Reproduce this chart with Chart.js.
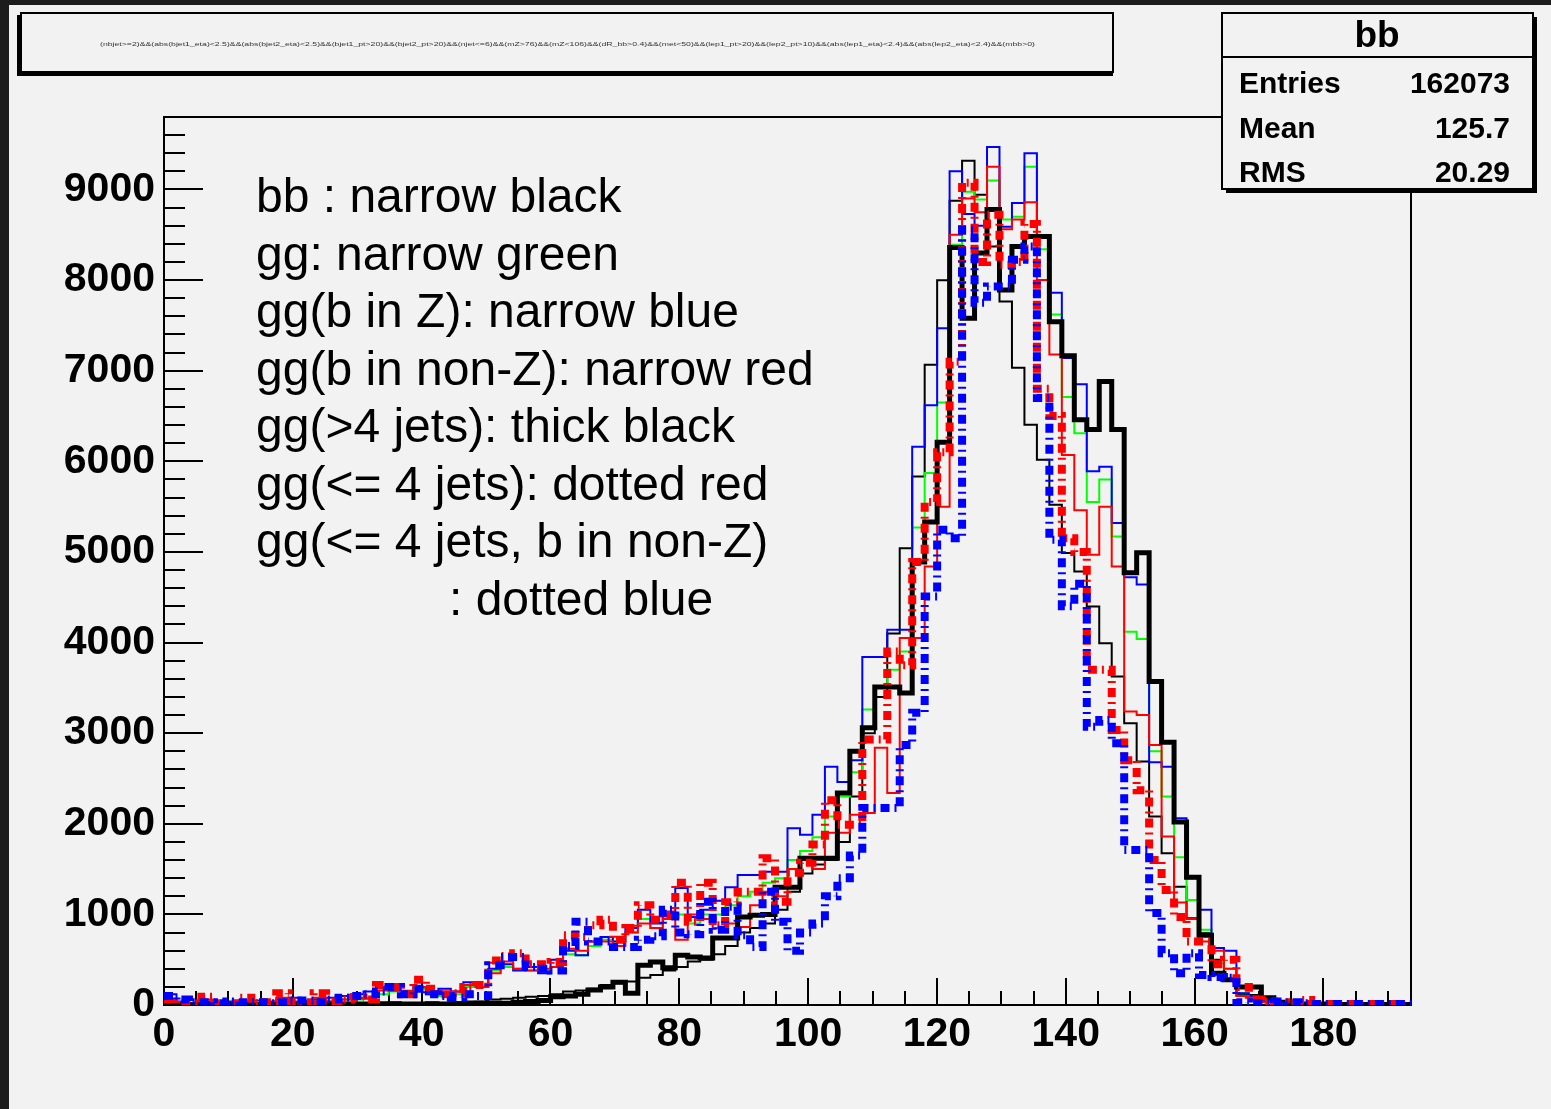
<!DOCTYPE html>
<html>
<head>
<meta charset="utf-8">
<script src="https://cdn.jsdelivr.net/npm/chart.js@4.4.1/dist/chart.umd.min.js"></script>
<style>
  html, body { margin: 0; padding: 0; background: #f2f2f2; }
  canvas { display: block; }
</style>
</head>
<body>
<canvas id="c" width="1551" height="1109"></canvas>
<script>
/* ── DATA (100 bins, 0 .. XMAX) ── */
const XMAX = 193.6;
const N_BINS = 100;
const X_TICKS = [0, 20, 40, 60, 80, 100, 120, 140, 160, 180];
const Y_TICKS = [0, 1000, 2000, 3000, 4000, 5000, 6000, 7000, 8000, 9000];
const Y_MAX = 9800;

// bb : narrow black
const bbBlack = [30,10,10,10,10,20,10,10,10,20, 10,10,20,10,20,20,10,20,30,20,
  20,30,20,30,40,40,60,70,80,90, 100,120,150,160,180,220,240,260,300,330,
  380,420,480,500,560,650,800,850,900,1050, 1250,1450,1550,1600,1800,2300,3000,3400,4100,5040,
  5833,7066,7997,8876,9318,8942,8372,7765,7032,6403, 6017,5520,4987,4784,4397,3993,3625,3110,2686,2079,
  1675,1306,957,791,500,276,110,110,60,30, 20,10,10,10,5,5,5,5,5,5];
// gg: narrow green
const ggGreen = [60,20,20,30,20,30,30,20,30,40, 30,30,60,40,60,60,80,120,150,160,
  180,120,100,120,200,200,380,420,400,380, 380,420,560,550,650,720,700,800,950,850,
  950,1000,900,1000,1000,1100,1200,1250,1350,1400, 1600,1700,1850,2080,2300,2570,3260,3500,3700,3900,
  5270,5870,6650,8390,8975,8890,9100,8670,8700,9250, 8340,7620,6710,6310,5550,5800,5170,4120,4040,2800,
  2300,1630,1160,830,460,400,130,100,40,20, 10,10,10,5,5,5,5,5,5,5];
// gg(b in Z): narrow blue
const ggBinZ = [120,40,20,40,30,40,30,50,40,60, 80,50,60,80,100,120,150,200,160,150,
  200,120,180,150,250,200,400,450,380,420, 350,500,600,550,700,750,700,850,1050,900,
  1000,1290,970,1050,1150,1300,1435,1435,1470,1470, 1950,1880,2100,2630,2460,2700,3840,3840,4140,4140,
  6160,6620,7470,9200,8730,8600,9470,8590,8850,9400, 8470,7860,7140,6850,5890,5940,5320,4720,4640,2680,
  2630,2060,1400,1050,630,600,130,100,40,20, 20,10,10,5,5,5,5,5,5,5];
// gg(b in non-Z): narrow red
const ggBnonZ = [50,20,20,60,20,30,50,20,30,80, 40,30,80,40,60,80,70,160,180,150,
  200,150,120,150,220,200,350,480,400,380, 400,420,620,600,700,700,650,800,900,850,
  950,720,1000,950,850,900,860,1100,1250,1200, 1500,1600,1500,1900,1900,2100,2120,2840,2340,4050,
  4050,4840,5500,8500,8900,8750,9250,8560,8670,8860, 8000,7180,6070,5460,4970,5500,4840,3240,3200,2870,
  1860,1130,950,700,600,400,100,60,30,20, 10,10,10,5,5,5,5,5,5,5];
// gg(>4 jets): thick black
const ggMore4 = [10,5,5,5,5,10,5,5,10,5, 10,10,5,10,10,10,10,15,10,10,
  10,10,10,15,15,20,20,20,30,40, 50,90,100,120,165,200,250,130,440,475,
  410,550,530,520,740,740,970,990,1000,1300, 1300,1620,1620,1620,2340,2800,3060,3510,3510,3444,
  4890,5330,6210,8360,7580,8300,8780,7890,8370,8480, 8480,7540,7165,6460,6350,6880,6350,4770,4990,3570,
  2900,2020,1410,770,350,280,200,200,80,30, 20,10,10,5,5,5,5,5,5,5];
// gg(<= 4 jets): dotted red
const ggLe4 = [60,20,20,90,20,20,80,20,30,130, 40,30,130,40,60,80,60,220,200,120,
  280,180,120,130,200,220,490,540,570,450, 450,475,770,750,880,940,720,850,1100,940,
  1000,1350,920,1350,880,1135,1250,1250,1620,1140, 1460,1570,1770,2260,1990,1990,2930,2930,3900,3750,
  4890,5550,6100,7100,9075,8200,8720,8170,8200,8620, 6800,6500,5150,5000,3700,3700,3035,2700,2370,1600,
  1270,970,700,700,450,500,200,60,40,30, 20,55,10,10,10,10,10,10,10,10];
// gg(<= 4 jets, b in non-Z): dotted blue
const ggLe4nonZ = [100,60,30,30,20,40,30,30,20,30, 50,50,30,60,80,100,120,150,200,120,
  180,120,100,80,120,100,440,530,530,420, 400,380,650,920,700,700,640,640,720,760,
  1050,800,780,1140,830,1085,770,640,1250,920, 600,800,900,1200,1400,1650,2175,2175,2175,2870,
  3225,4508,5245,5150,8556,7750,7930,7930,8225,8372, 6700,5135,4400,4650,3072,3146,2890,1710,1710,1015,
  570,350,570,330,310,300,30,20,20,40, 30,20,10,10,10,10,10,10,10,10];

const LEGEND_LINES = [
  "bb : narrow black",
  "gg: narrow green",
  "gg(b in Z): narrow blue",
  "gg(b in non-Z): narrow red",
  "gg(>4 jets): thick black",
  "gg(<= 4 jets): dotted red",
  "gg(<= 4 jets, b in non-Z)",
  ": dotted blue"
];
const STATS_TITLE = "bb";
const STATS_ROWS = [["Entries", "162073"], ["Mean", "125.7"], ["RMS", "20.29"]];
const TITLE = "(nbjet>=2)&&(abs(bjet1_eta)<2.5)&&(abs(bjet2_eta)<2.5)&&(bjet1_pt>20)&&(bjet2_pt>20)&&(njet<=6)&&(mZ>76)&&(mZ<106)&&(dR_bb>0.4)&&(met<50)&&(lep1_pt>20)&&(lep2_pt>10)&&(abs(lep1_eta)<2.4)&&(abs(lep2_eta)<2.4)&&(mbb>0)";

/* ── HELPERS ── */
const BIN_W = XMAX / N_BINS;
function toSteps(vals) {
    const pts = vals.map((v, i) => ({ x: i * BIN_W, y: v }));
    pts.push({ x: vals.length * BIN_W, y: vals[vals.length - 1] });
    return pts;
}

const FONT = "'Liberation Sans', Arial, Helvetica, sans-serif";
const DOT = [9, 5, 2, 5];

// first in list is drawn on top
const series = [
    { data: ggLe4nonZ, color: "#0000ff", width: 8, dash: DOT },
    { data: ggLe4,     color: "#ff0000", width: 8, dash: DOT },
    { data: ggMore4,   color: "#000000", width: 5, dash: [] },
    { data: ggBnonZ,   color: "#ff0000", width: 2, dash: [] },
    { data: ggBinZ,    color: "#0000ff", width: 2, dash: [] },
    { data: ggGreen,   color: "#00ff00", width: 2, dash: [] },
    { data: bbBlack,   color: "#000000", width: 2, dash: [] }
];

/* ── DECORATION PLUGIN (frame, ticks, boxes, text) ── */
const rootLook = {
    id: "rootLook",
    beforeDraw(chart) {
        const c = chart.ctx;
        c.save();
        c.fillStyle = "#f2f2f2";
        c.fillRect(0, 0, chart.width, chart.height);
        c.fillStyle = "#1c1c1c";
        c.fillRect(0, 0, 9, chart.height);
        c.fillRect(0, 0, chart.width, 5);
        c.restore();
    },
    beforeDatasetsDraw(chart) {
        const c = chart.ctx, a = chart.chartArea;
        const xs = chart.scales.x, ys = chart.scales.y;
        c.save();
        c.strokeStyle = "#000";
        c.lineWidth = 2;
        c.strokeRect(a.left, a.top, a.right - a.left, a.bottom - a.top);
        c.beginPath();
        for (let v = 0; v <= XMAX; v += 5) {
            const px = Math.round(xs.getPixelForValue(v));
            const len = v % 20 === 0 ? 27 : 14;
            c.moveTo(px, a.bottom); c.lineTo(px, a.bottom - len);
        }
        for (let v = 0; v <= Y_MAX; v += 200) {
            const py = Math.round(ys.getPixelForValue(v));
            const len = v % 1000 === 0 ? 39 : 21;
            c.moveTo(a.left, py); c.lineTo(a.left + len, py);
        }
        c.stroke();
        c.restore();
    },
    afterDraw(chart) {
        const c = chart.ctx;
        c.save();
        // text block inside the pad
        c.fillStyle = "#000";
        c.font = "48px " + FONT;
        c.textAlign = "left";
        c.textBaseline = "alphabetic";
        LEGEND_LINES.forEach((t, i) => {
            const x = i === LEGEND_LINES.length - 1 ? 449 : 256;
            c.fillText(t, x, 212 + i * 57.5);
        });

        // title pave (shadow left/bottom)
        c.fillStyle = "#000";
        c.fillRect(17, 15, 1096, 61);
        c.fillStyle = "#f2f2f2";
        c.fillRect(21, 13, 1092, 59);
        c.strokeStyle = "#000";
        c.lineWidth = 2;
        c.strokeRect(21, 13, 1092, 59);
        c.save();
        c.fillStyle = "#333";
        c.font = "5px " + FONT;
        c.textAlign = "left";
        c.textBaseline = "middle";
        const tw = c.measureText(TITLE).width;
        c.translate(100, 45);
        c.scale(935 / tw, 1);
        c.fillText(TITLE, 0, 0);
        c.restore();

        // stats box (shadow right/bottom)
        c.fillStyle = "#000";
        c.fillRect(1226, 17, 311, 176);
        c.fillStyle = "#f2f2f2";
        c.fillRect(1222, 13, 311, 176);
        c.strokeStyle = "#000";
        c.lineWidth = 2;
        c.strokeRect(1222, 13, 311, 176);
        c.beginPath();
        c.moveTo(1222, 57); c.lineTo(1533, 57);
        c.stroke();
        c.fillStyle = "#000";
        c.textBaseline = "alphabetic";
        c.font = "bold 37px " + FONT;
        c.textAlign = "center";
        c.fillText(STATS_TITLE, 1377, 47);
        c.font = "bold 30px " + FONT;
        STATS_ROWS.forEach((r, i) => {
            const y = 93 + i * 44.5;
            c.textAlign = "left";
            c.fillText(r[0], 1239, y);
            c.textAlign = "right";
            c.fillText(r[1], 1510, y);
        });
        c.restore();
    }
};

/* ── CHART ── */
const setTicks = list => scale => {
    scale.ticks = list.map(v => ({ value: v }));
};

new Chart(document.getElementById("c"), {
    type: "line",
    data: {
        datasets: series.map(s => ({
            data: toSteps(s.data),
            borderColor: s.color,
            borderWidth: s.width,
            borderDash: s.dash,
            borderCapStyle: "butt",
            borderJoinStyle: "miter",
            stepped: "before",
            pointRadius: 0,
            fill: false
        }))
    },
    options: {
        responsive: false,
        animation: false,
        devicePixelRatio: 1,
        layout: { padding: { left: 0, top: 117, right: 140, bottom: 0 } },
        plugins: { legend: { display: false }, tooltip: { enabled: false } },
        scales: {
            x: {
                type: "linear", min: 0, max: XMAX,
                grid: { display: false, drawTicks: false },
                border: { display: false },
                afterBuildTicks: setTicks(X_TICKS),
                afterFit: s => { s.height = 104; },
                ticks: {
                    autoSkip: false, maxRotation: 0, padding: 5,
                    color: "#000",
                    callback: v => String(v),
                    font: { family: FONT, size: 41, weight: "bold" }
                }
            },
            y: {
                type: "linear", min: 0, max: Y_MAX,
                grid: { display: false, drawTicks: false },
                border: { display: false },
                afterBuildTicks: setTicks(Y_TICKS),
                afterFit: s => { s.width = 164; },
                ticks: {
                    autoSkip: false, padding: 9,
                    color: "#000",
                    callback: v => String(v),
                    font: { family: FONT, size: 41, weight: "bold" }
                }
            }
        }
    },
    plugins: [rootLook]
});
</script>
</body>
</html>
